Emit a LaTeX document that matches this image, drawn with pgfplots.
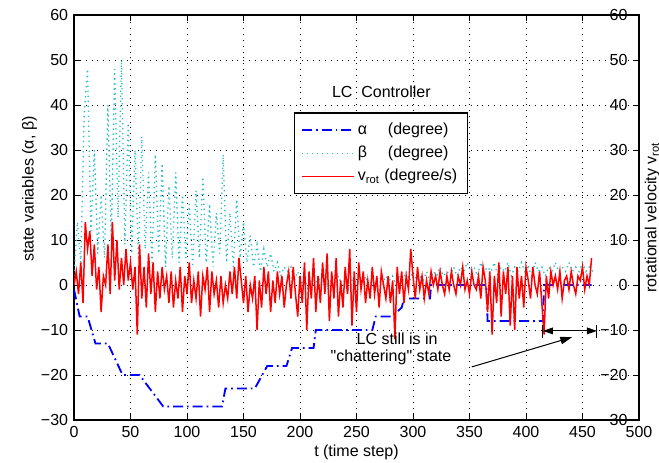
\documentclass[border=0pt]{standalone}
\usepackage{pgfplots}
\pgfplotsset{compat=1.18}
\usepackage{pgfplotstable}
\usepackage{fontspec}
\setmainfont{Liberation Sans}
\usetikzlibrary{arrows.meta}

\definecolor{betacyan}{RGB}{40,190,200}

% alpha: staircase (degree)
\pgfplotstableread{
t a
0 -1
5 -7
12 -7
19 -13
30 -13
43 -20
58 -20
79 -27
131 -27
134 -23
160 -23
171 -18
188 -18
193 -14
212 -14
214 -10
264 -10
267 -7
282 -7
290 -5
292 -3
315 -3
316 0
365 0
366 -8
415 -8
416 0
458 0
}\alphadata

% beta (degree)
\pgfplotstableread{
t b
0 2
3 14
6 5
9 38
12 48
15 12
18 30
21 7
24 20
27 6
30 40
33 10
36 48
39 15
42 50
45 9
48 36
51 7
54 30
57 6
60 33
63 8
66 25
69 5
72 29
75 7
78 27
81 4
84 22
87 6
90 25
93 5
96 20
99 6
102 18
105 4
108 21
111 6
114 24
117 5
120 18
123 4
126 16
129 7
132 29
135 5
138 16
141 4
144 19
147 6
150 14
153 5
156 11
159 4
162 9
165 3
168 8
171 4
174 7
177 3
180 5
183 2
186 4
189 3
192 4
195 1
198 3
201 0
204 2
207 -1
210 1
213 0
216 2
219 0
222 1
225 -1
228 1
231 0
234 2
237 0
240 1
243 -1
246 1
249 0
252 1
255 0
258 2
261 0
264 1
267 0
270 1
273 0
276 2
279 1
282 2
285 0
288 2
291 1
294 3
297 1
300 3
303 1
306 2
309 1
312 3
315 1
318 3
321 2
324 4
327 2
330 3
333 2
336 4
339 2
342 4
345 3
348 5
351 3
354 4
357 2
360 5
363 3
366 4
369 3
372 5
375 2
378 4
381 3
384 5
387 2
390 4
393 3
396 5
399 3
402 4
405 2
408 5
411 3
414 4
417 2
420 4
423 3
426 5
429 3
432 4
435 3
438 5
441 3
444 4
447 3
450 5
453 3
456 4
459 3
}\betadata

% v_rot (degree/s)
\pgfplotstableread{
t v
0 0
2 3
4 -2
6 5
8 -4
10 14
12 8
14 12
16 2
18 9
20 -1
22 4
24 -6
26 2
28 0
30 9
32 -2
34 14
36 1
38 10
40 -1
42 6
44 0
46 8
48 1
50 5
52 -1
54 4
56 -11
58 9
60 -3
62 4
64 -5
66 7
68 -2
70 5
72 -6
74 3
76 -3
78 4
80 -1
82 2
84 -4
86 3
88 -5
90 1
92 -3
94 4
96 -6
98 2
100 -2
102 5
104 -4
106 1
108 -3
110 3
112 -7
114 2
116 -1
118 4
120 -6
122 3
124 -2
126 1
128 -5
130 2
132 -4
134 0
136 -3
138 3
140 -2
142 4
144 -3
146 6
148 1
150 -4
152 2
154 -6
156 0
158 -3
160 2
162 -10
164 1
166 -5
168 4
170 -2
172 3
174 -6
176 1
178 -4
180 3
182 -2
184 2
186 -5
188 0
190 3
192 -3
194 4
196 -2
198 -7
200 2
202 -4
204 5
206 -10
208 3
210 -3
212 6
214 -6
216 2
218 -4
220 5
222 -2
224 7
226 -8
228 3
230 -3
232 6
234 -7
236 1
238 -5
240 4
242 -2
244 8
246 -9
248 3
250 -6
252 5
254 -1
256 3
258 -4
260 1
262 -3
264 4
266 -2
268 2
270 -5
272 3
274 0
276 -3
278 2
280 -4
282 1
284 -12
286 4
288 -2
290 3
292 -4
294 2
296 -1
298 8
300 2
302 -3
304 4
306 -1
308 2
310 -3
312 1
314 -2
316 3
318 0
320 2
322 -1
324 3
326 0
328 -2
330 2
332 -1
334 3
336 0
338 -2
340 2
342 0
344 4
346 -1
348 1
350 -2
352 3
354 0
356 -1
358 2
360 -3
362 4
364 1
366 -6
368 3
370 -11
372 2
374 -4
376 5
378 -7
380 3
382 -2
384 4
386 -9
388 2
390 -10
392 4
394 -3
396 2
398 -5
400 4
402 1
404 -3
406 4
408 0
410 -2
412 3
414 -4
416 -11
418 2
420 -3
422 3
424 0
426 2
428 -1
430 3
432 -3
434 1
436 2
438 -1
440 3
442 0
444 -2
446 2
448 1
450 4
452 -1
454 2
456 0
458 6
}\vrotdata

\begin{document}
\begin{tikzpicture}[font=\fontsize{9.6}{11}\selectfont]
\path[use as bounding box] (-44.4pt,-25.8pt) rectangle (351pt,252pt);
\begin{axis}[
  at={(0,0)}, anchor=south west,
  scale only axis, width=339pt, height=243pt,
  xmin=0, xmax=500, ymin=-30, ymax=60,
  xtick={0,50,...,500}, ytick={-30,-20,...,60},
  yticklabels={−30,−20,−10,0,10,20,30,40,50,60},
  xticklabel style={/pgf/number format/assume math mode=true},
  grid=major,
  major grid style={black, line width=0.4pt, dash pattern=on 0.5pt off 3pt},
  axis line style={line width=0.8pt},
  tick style={black, line width=0.5pt}, major tick length=3.5pt,
  xlabel={t (time step)},
  xlabel style={yshift=2pt},
  ylabel={state variables (α, β)},
  ylabel style={at={(axis description cs:-0.055,0.57)}, anchor=south},
  legend style={at={(0.389,0.760)}, anchor=north west, draw=black,
    line width=0.8pt, fill=white, font=\fontsize{9.6}{11}\selectfont,
    row sep=1.5pt, inner xsep=4pt, inner ysep=4pt, cells={anchor=west}},
  legend image code/.code={\draw[#1] (0pt,0pt) -- (31pt,0pt);},
]
\addplot[blue, line width=1.1pt, dash pattern=on 6pt off 2.4pt on 1pt off 2.4pt]
  table[x=t, y=a] {\alphadata};
\addlegendentry{\makebox[18pt][l]{α}(degree)}
\addplot[betacyan, line width=0.8pt, dash pattern=on 0.8pt off 2.2pt]
  table[x=t, y=b] {\betadata};
\addlegendentry{\makebox[18pt][l]{β}(degree)}
\addplot[red, line width=0.9pt] table[x=t, y=v] {\vrotdata};
\addlegendentry{v\textsubscript{rot} (degree/s)}

\node at (axis cs:272,43) {LC\ \ Controller};
\node at (axis cs:286,-12) {LC still is in};
\node at (axis cs:280.5,-16) {\addfontfeatures{Ligatures=TeXOff}"chattering" state};
\draw[line width=0.6pt, -{Triangle[length=7pt,width=4.5pt]}]
  (axis cs:352,-18.2) -- (axis cs:440.7,-11.6);
\draw[line width=0.6pt, {Triangle[length=6pt,width=4pt]}-{Triangle[length=6pt,width=4pt]}]
  (axis cs:415,-10.2) -- (axis cs:462.8,-10.2);
\draw[line width=0.6pt] (axis cs:415,-8.9) -- (axis cs:415,-11.8);
\draw[line width=0.6pt] (axis cs:462.8,-8.9) -- (axis cs:462.8,-11.8);
\end{axis}

\begin{axis}[
  at={(0,0)}, anchor=south west,
  scale only axis, width=339pt, height=243pt,
  xmin=0, xmax=500, ymin=-30, ymax=60,
  axis x line=none, axis y line*=right,
  axis line style={line width=0.8pt},
  ytick={-30,-20,...,60},
  yticklabels={−30,−20,−10,0,10,20,30,40,50,60},
  yticklabel style={anchor=east, xshift=-3.4pt},
  tick style={black, line width=0.5pt}, major tick length=3.5pt,
  ylabel={rotational velocity v\textsubscript{rot}},
  ylabel style={at={(axis description cs:1,0.5)}, anchor=north},
]
\end{axis}
\end{tikzpicture}
\end{document}
